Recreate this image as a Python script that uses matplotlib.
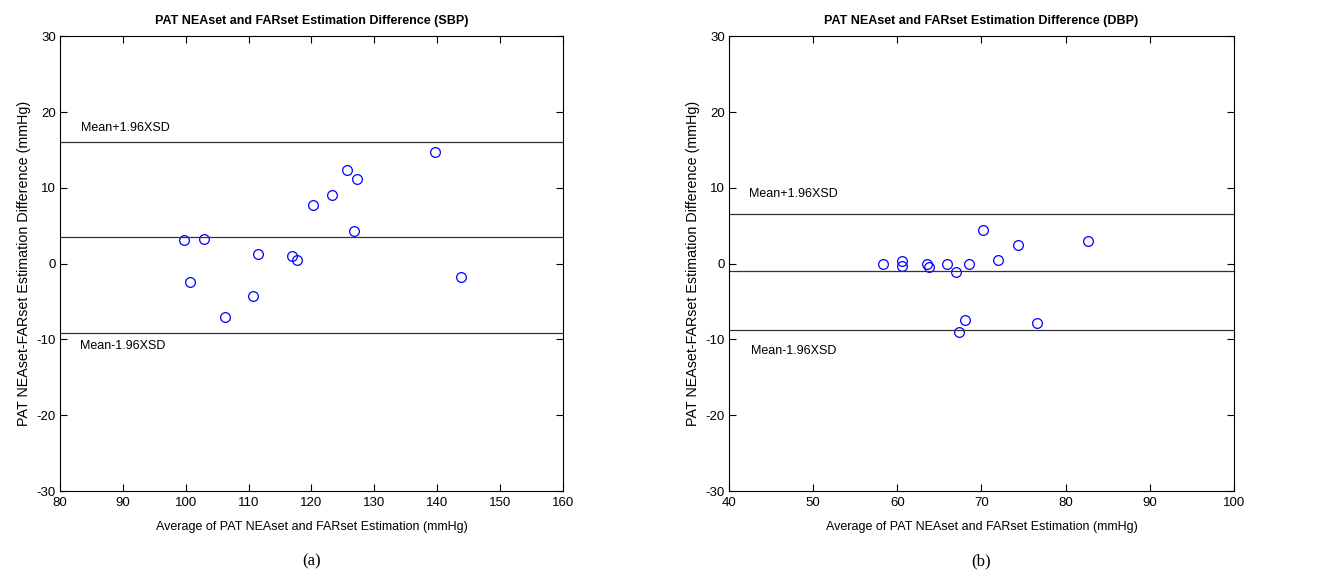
import matplotlib.pyplot as plt

plt.rcParams['font.family'] = ['Liberation Sans', 'DejaVu Sans']
plt.rcParams['axes.unicode_minus'] = False

# SBP panel data
sbp_avg = [99.8, 100.6, 102.9, 106.3, 110.7, 111.5, 116.9, 117.7, 120.3, 123.2, 125.6, 127.2, 126.8, 139.7, 143.8]
sbp_diff = [3.1, -2.4, 3.2, -7.1, -4.3, 1.3, 1.0, 0.5, 7.8, 9.1, 12.4, 11.1, 4.3, 14.7, -1.7]
sbp_mean = 3.5
sbp_upper = 16.1
sbp_lower = -9.1

# DBP panel data
dbp_avg = [58.3, 60.5, 60.5, 63.5, 63.8, 65.9, 67.0, 68.5, 70.2, 72.0, 74.3, 82.7, 68.0, 67.3, 76.6]
dbp_diff = [-0.1, 0.3, -0.3, -0.1, -0.4, -0.1, -1.1, 0.0, 4.4, 0.5, 2.4, 3.0, -7.4, -9.0, -7.8]
dbp_mean = -1.0
dbp_upper = 6.6
dbp_lower = -8.7

fig = plt.figure(figsize=(13.23, 5.75), dpi=100)
ax1 = fig.add_axes([0.0454, 0.146, 0.380, 0.791])
ax2 = fig.add_axes([0.551, 0.146, 0.3817, 0.791])

panels = [
    (ax1, sbp_avg, sbp_diff, sbp_mean, sbp_upper, sbp_lower, (80, 160), 'SBP', '(a)',
     (83.4, 17.9), (83.2, -10.8)),
    (ax2, dbp_avg, dbp_diff, dbp_mean, dbp_upper, dbp_lower, (40, 100), 'DBP', '(b)',
     (42.4, 9.2), (42.6, -11.5)),
]

for ax, xs, ys, m, up, lo, xlim, name, tag, up_pos, lo_pos in panels:
    ax.plot(xs, ys, 'o', markerfacecolor='none', markeredgecolor='blue', markersize=7, markeredgewidth=0.9)
    for yv in [up, m, lo]:
        ax.axhline(yv, color='#333333', linewidth=0.9)
    ax.text(up_pos[0], up_pos[1], 'Mean+1.96XSD', fontsize=9, va='center')
    ax.text(lo_pos[0], lo_pos[1], 'Mean-1.96XSD', fontsize=9, va='center')
    ax.set_xlim(*xlim)
    ax.set_ylim(-30, 30)
    ax.set_yticks(range(-30, 31, 10))
    ax.tick_params(direction='in', top=True, right=True, labelsize=9.5, length=5)
    ax.tick_params(axis='x', pad=4)
    ax.tick_params(axis='y', pad=3)
    ax.set_title('PAT NEAset and FARset Estimation Difference (' + name + ')',
                 fontsize=9, fontweight='bold', pad=9)
    ax.set_xlabel('Average of PAT NEAset and FARset Estimation (mmHg)', fontsize=9, labelpad=9)
    ax.set_ylabel('PAT NEAset-FARset Estimation Difference (mmHg)', fontsize=10.3, labelpad=4)
    ax.text(0.5, -0.155, tag, transform=ax.transAxes, ha='center', va='center',
            fontsize=12, family='Liberation Serif')

fig.savefig('out.png', dpi=100)
